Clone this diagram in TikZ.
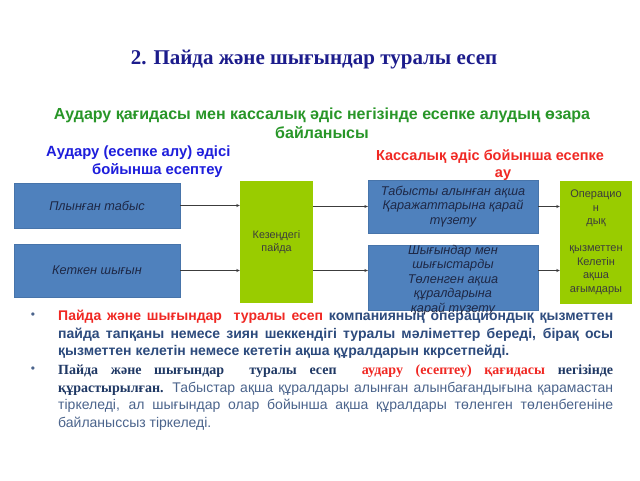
\documentclass[tikz,border=0pt]{standalone}
\usepackage{fontspec}
\setmainfont{Liberation Sans}
\newfontfamily\serifbf{Liberation Serif}
\usetikzlibrary{arrows.meta}
\definecolor{titlec}{RGB}{28,28,140}
\definecolor{greenc}{RGB}{40,150,40}
\definecolor{bluec}{RGB}{30,30,220}
\definecolor{redc}{RGB}{240,40,35}
\definecolor{boxblue}{RGB}{79,129,189}
\definecolor{boxgreen}{RGB}{153,204,0}
\definecolor{boxtext}{RGB}{30,40,70}
\definecolor{gtext}{RGB}{60,60,60}
\definecolor{btext}{RGB}{45,75,125}
\definecolor{ntext}{RGB}{31,56,100}
\definecolor{rtext}{RGB}{75,100,140}
\definecolor{arrc}{RGB}{60,60,60}
\tikzset{
  bbox/.style={fill=boxblue, draw=boxblue!90!black, line width=0.3pt, inner sep=0, text=boxtext, align=center,
    font=\itshape\fontsize{12.7}{14.5}\selectfont},
  gbox/.style={fill=boxgreen, inner sep=0, text=gtext, align=center},
  conn/.style={draw=arrc, line width=0.8pt, -{Stealth[length=3.5pt,width=3pt]}},
  bl/.style={anchor=base west, inner sep=0},
  dotb/.style={inner sep=0, text=rtext, font=\fontsize{12}{12}\selectfont}
}
\begin{document}
\begin{tikzpicture}[x=1pt,y=-1pt]
\useasboundingbox[fill=white] (0,0) rectangle (640,480);

% headings
\node[font=\serifbf\bfseries\fontsize{21}{24}\selectfont, text=titlec] (title) at (314,60) {2. Пайда және шығындар туралы есеп};
\node[font=\bfseries\fontsize{16}{18}\selectfont, text=greenc] (sub1) at (322,115) {Аудару қағидасы мен кассалық әдіс негізінде есепке алудың өзара};
\node[font=\bfseries\fontsize{16}{18}\selectfont, text=greenc] (sub2) at (322,133) {байланысы};
\node[font=\bfseries\fontsize{14.8}{16}\selectfont, text=bluec, anchor=west, inner sep=0] (h1) at (46,153) {Аудару (есепке алу) әдісі};
\node[font=\bfseries\fontsize{14.8}{16}\selectfont, text=bluec, anchor=west, inner sep=0] (h2) at (92,170.5) {бойынша есептеу};
\node[font=\bfseries\fontsize{14.5}{17}\selectfont, text=redc] (r1) at (490,157) {Кассалық әдіс бойынша есепке};
\node[font=\bfseries\fontsize{14.5}{17}\selectfont, text=redc] (r2) at (503,175) {ау};

% boxes
\node[bbox, minimum width=166pt, minimum height=45pt] (A) at (97,205.5) {Плынған табыс};
\node[bbox, minimum width=166pt, minimum height=53pt] (B) at (97,270.5) {Кеткен шығын};
\node[gbox, minimum width=73pt, minimum height=122pt, font=\fontsize{10.8}{12.5}\selectfont] (G) at (276.5,242) {Кезеңдегі\\пайда};
\node[bbox, minimum width=170pt, minimum height=53pt] (C) at (453,206.5) {Табысты алынған ақша\\Қаражаттарына қарай\\түзету};
\node[bbox, minimum width=170pt, minimum height=65pt] (D) at (453,277.5) {};
\node[gbox, minimum width=72pt, minimum height=123pt, font=\fontsize{11}{13.5}\selectfont] (R) at (596,242.5) {Операцио\\н\\дық\\[13.5pt]қызметтен\\Келетін\\ақша\\ағымдары};

% connectors
\draw[conn] (A.east) -- (A.east -| G.west);
\draw[conn] (B.east) -- (B.east -| G.west);
\draw[conn] (G.east |- C.west) -- (C.west);
\draw[conn] (G.east |- B.east) -- (B.east -| D.west);
\draw[conn] (C.east) -- (C.east -| R.west);
\draw[conn] (D.east |- B.east) -- (B.east -| R.west);

% bullet 1
\node[dotb] (d1) at (33,316) {•};
\node[bl, font=\bfseries\fontsize{14}{17.5}\selectfont, text=btext] (p1a) at (58,320.5)
  {\hbox to 555pt{{\color{redc}Пайда және шығындар\ \ туралы есеп} компанияның операциондық қызметтен}};
\node[bl, font=\bfseries\fontsize{14}{17.5}\selectfont, text=btext] (p1b) at (58,338)
  {\hbox to 555pt{пайда тапқаны немесе зиян шеккендігі туралы мәліметтер береді, бірақ осы}};
\node[bl, font=\bfseries\fontsize{14}{17.5}\selectfont, text=btext] (p1c) at (58,355.5)
  {қызметтен келетін немесе кететін ақша құралдарын ккрсетпейді.};

% text of box D (overflows the box)
\node[inner sep=0, align=center, text=boxtext, font=\itshape\fontsize{12.7}{14.5}\selectfont] (Dt) at (453,280) {Шығындар мен\\шығыстарды\\Төленген ақша\\құралдарына\\қарай түзету};

% bullet 2
\node[dotb] (d2) at (33,370) {•};
\node[bl, font=\serifbf\bfseries\fontsize{14}{17.5}\selectfont, text=ntext] (p2a) at (58,374.5)
  {\hbox to 555pt{Пайда және шығындар\ \ туралы есеп\ \ {\color{redc}аудару (есептеу) қағидасы} негізінде}};
\node[bl, font=\fontsize{14}{17.5}\selectfont, text=rtext] (p2b) at (58,392)
  {\hbox to 555pt{{\serifbf\bfseries\color{ntext}құрастырылған.} Табыстар ақша құралдары алынған алынбағандығына қарамастан}};
\node[bl, font=\fontsize{14}{17.5}\selectfont, text=rtext] (p2c) at (58,409.5)
  {\hbox to 555pt{тіркеледі, ал шығындар олар бойынша ақша құралдары төленген төленбегеніне}};
\node[bl, font=\fontsize{14}{17.5}\selectfont, text=rtext] (p2d) at (58,427)
  {байланыссыз тіркеледі.};
\end{tikzpicture}
\end{document}
